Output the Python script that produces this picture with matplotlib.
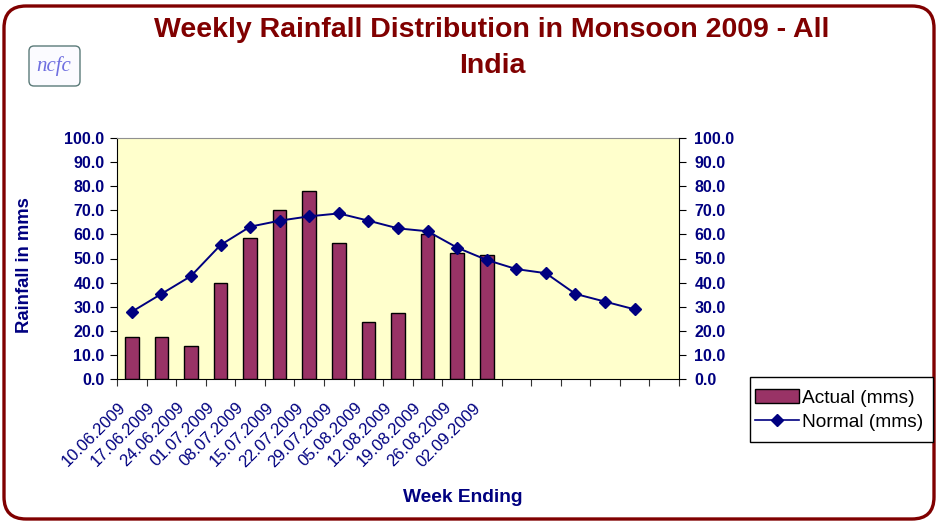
import numpy as np
import matplotlib
matplotlib.use("Agg")
import matplotlib.pyplot as plt
import matplotlib.transforms as mtransforms
from matplotlib.patches import FancyBboxPatch, Patch, Rectangle
from matplotlib.lines import Line2D

plt.rcParams['font.family'] = ['Liberation Sans', 'DejaVu Sans']

weeks = ["10.06.2009", "17.06.2009", "24.06.2009", "01.07.2009", "08.07.2009",
         "15.07.2009", "22.07.2009", "29.07.2009", "05.08.2009", "12.08.2009",
         "19.08.2009", "26.08.2009", "02.09.2009"]
actual = [17.3, 17.3, 13.6, 39.7, 58.4, 70.0, 78.0, 56.4, 23.5, 27.3, 60.2, 52.2, 51.3]
normal = [27.9, 35.3, 42.7, 55.6, 63.2, 65.7, 67.5, 68.7, 65.7, 62.5, 61.3, 54.5,
          49.4, 45.6, 43.9, 35.3, 32.1, 28.9]
n_slots = 19  # category slots on the x axis (last one empty)

navy = "#000080"
maroon = "#800000"
bar_col = "#993366"

W, H = 938, 525
fig = plt.figure(figsize=(W / 100, H / 100), dpi=100)

# background layer in pixel units (y measured from bottom)
bg = fig.add_axes([0, 0, 1, 1], zorder=-1)
bg.set_xlim(0, W)
bg.set_ylim(0, H)
bg.axis("off")
bg.add_patch(FancyBboxPatch((4, 6), W - 8, H - 12,
                            boxstyle="round,pad=0,rounding_size=22",
                            fc="white", ec=maroon, lw=2.4))
# ncfc logo
bg.add_patch(FancyBboxPatch((29, H - 86), 51, 40,
                            boxstyle="round,pad=0,rounding_size=5",
                            fc="#fbfbff", ec="#5a7a78", lw=1.0))
bg.text(54, H - 66, "ncfc", family="Liberation Serif", style="italic",
        color="#6f6fe0", fontsize=15, ha="center", va="center")

bg.text(492, H - 30, "Weekly Rainfall Distribution in Monsoon 2009 - All",
        color=maroon, fontsize=20.5, fontweight="bold", ha="center", va="center")
bg.text(492, H - 66, "India", color=maroon, fontsize=20.5, fontweight="bold",
        ha="center", va="center")
bg.text(25, H - 265, "Rainfall in mms", color=navy, fontsize=13.3,
        fontweight="bold", rotation=90, ha="center", va="center")
bg.text(463, H - 497, "Week Ending", color=navy, fontsize=13.8,
        fontweight="bold", ha="center", va="center")

# legend frame
bg.add_patch(Rectangle((750, H - 442), 183, 65, fc="white", ec="black", lw=1.0))

# main plot
ax = fig.add_axes([117 / W, (H - 379) / H, (679 - 117) / W, (379 - 138) / H])
ax.set_facecolor("#FFFFCC")
x_bar = np.arange(len(actual))
x_line = np.arange(len(normal))
ax.bar(x_bar, actual, width=0.46, color=bar_col, edgecolor="black", linewidth=1.0,
       zorder=2)
ax.plot(x_line, normal, color=navy, lw=1.4, marker="D", markersize=6, zorder=3)

ax.set_xlim(-0.5, n_slots - 0.5)
ax.set_ylim(0, 100)
ax.set_xticks(np.arange(n_slots + 1) - 0.5)
ax.set_xticklabels([])
ax.tick_params(axis="x", which="major", length=5, color="#333333")

# category labels, rotated, placed just left of each category centre
lab_tr = ax.get_xaxis_transform() + mtransforms.ScaledTranslation(
    -14 / 100, -21 / 100, fig.dpi_scale_trans)
for i, w in enumerate(weeks):
    ax.text(i, 0, w, transform=lab_tr, rotation=45, ha="right", va="top",
            rotation_mode="anchor", color=navy, fontsize=12)

yt = np.arange(0, 101, 10)
ax.set_yticks(yt)
ax.set_yticklabels([f"{v:.1f}" for v in yt], color=navy, fontsize=11.5,
                   fontweight="bold")
ax.tick_params(axis="y", length=5, pad=4)
for s in ["left", "bottom"]:
    ax.spines[s].set_color("black")
ax.spines["top"].set_color("#909090")
ax.spines["right"].set_visible(False)

ax2 = ax.twinx()
ax2.set_ylim(0, 100)
ax2.set_yticks(yt)
ax2.set_yticklabels([f"{v:.1f}" for v in yt], color=navy, fontsize=11.5,
                    fontweight="bold")
ax2.tick_params(axis="y", length=5, pad=6)
ax2.spines["right"].set_color("black")
for s in ["left", "top", "bottom"]:
    ax2.spines[s].set_visible(False)

handles = [Patch(facecolor=bar_col, edgecolor="black", linewidth=1.0),
           Line2D([], [], color=navy, lw=1.2, marker="D", markersize=6)]
leg = fig.legend(handles, ["Actual (mms)", "Normal (mms)"],
                 loc="center left", bbox_to_anchor=(755 / W, 1 - 410 / H),
                 fontsize=13.8, frameon=False,
                 handlelength=2.3, handletextpad=0.15, borderpad=0,
                 labelspacing=0.35, borderaxespad=0)

fig.savefig("out.png", dpi=100)
